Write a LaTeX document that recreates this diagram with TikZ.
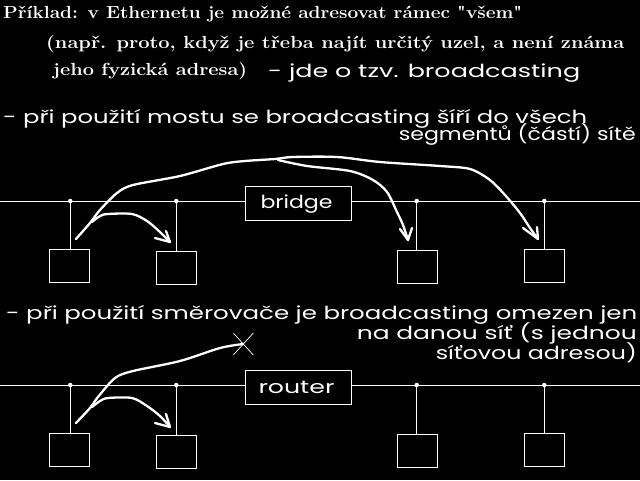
\documentclass[tikz,border=0pt]{standalone}
\usepackage{fontspec}
\usepackage{graphicx}
\newfontfamily\sansf{Poppins}
\newcommand{\fitw}[2]{\resizebox{#1}{\height}{#2}}
\begin{document}
\begin{tikzpicture}[x=1pt,y=-1pt,
  every node/.style={inner sep=0pt, text=white},
  thin line/.style={draw=white, line width=1pt},
  pcbox/.style={draw=white, line width=1pt, minimum width=40pt, minimum height=33pt, fill=black},
  devbox/.style={draw=white, line width=1pt, minimum width=106pt, minimum height=34pt, fill=black, font=\sansf\fontsize{18}{18}\selectfont},
  hand/.style={draw=white, line width=2.3pt, line cap=round, line join=round},
  serift/.style={font=\bfseries\fontsize{17.5}{17.5}\selectfont},
  sanst/.style={font=\sansf\fontsize{18}{18}\selectfont},
  dotm/.style={circle, fill=white, minimum size=4.5pt}]
\fill[black] (0,0) rectangle (640,480);
\useasboundingbox (0,0) rectangle (640,480);

% title texts
\node[serift, anchor=base west] (t1) at (3,18) {\fitw{519pt}{Příklad: v Ethernetu je možné adresovat rámec \textquotedbl všem\textquotedbl}};
\node[serift, anchor=base west] (t2) at (46,48) {\fitw{578pt}{(např. proto, když je třeba najít určitý uzel, a není známa}};
\node[serift, anchor=base west] (t3) at (53,75) {\fitw{194pt}{jeho fyzická adresa)}};
\node[sanst, anchor=base west] (t4) at (268,77) {\fitw{312pt}{- jde o tzv. broadcasting}};

\node[sanst, anchor=base west] (s1) at (3,123) {\fitw{584pt}{- při použití mostu se broadcasting šíří do všech}};
\node[sanst, anchor=base east] (s2) at (636,140) {\fitw{237pt}{segmentů (částí) sítě}};

\node[sanst, anchor=base west] (r1) at (6,319) {\fitw{631pt}{- při použití směrovače je broadcasting omezen jen}};
\node[sanst, anchor=base east] (r2) at (637,339) {\fitw{280pt}{na danou síť (s jednou}};
\node[sanst, anchor=base east] (r3) at (637,359) {\fitw{201pt}{síťovou adresou)}};

% ===== bridge network =====
\node[devbox] (bridge) at (298.5,203.3) {};
\node[devbox, draw=none, fill=none, minimum size=0pt, anchor=base west] (bt) at (260,208) {\fitw{72pt}{bridge}};
\coordinate (bl) at (0,201);
\coordinate (br) at (640,201);
\draw[thin line] (bl) -- (bridge.west |- bl);
\draw[thin line] (bridge.east |- br) -- (br);
\node[pcbox] (b1) at (69.5,265.7) {};
\node[pcbox] (b2) at (176.5,268) {};
\node[pcbox] (b3) at (417.5,267) {};
\node[pcbox] (b4) at (544.5,265.8) {};
\node[dotm] (d1) at (70.3,201) {};
\node[dotm] (d2) at (176.3,201) {};
\node[dotm] (d3) at (416.7,201) {};
\node[dotm] (d4) at (544.3,201) {};
\draw[thin line] (d1.center) -- (d1.center |- b1.north);
\draw[thin line] (d2.center) -- (d2.center |- b2.north);
\draw[thin line] (d3.center) -- (d3.center |- b3.north);
\draw[thin line] (d4.center) -- (d4.center |- b4.north);

% hand-drawn arrows (bridge)
\draw[hand] plot[smooth, tension=0.5] coordinates {(76,239) (90,223) (100,210) (117,193) (133,185) (180,176) (223,164) (245,161) (275,159) (293,157) (337,157) (380,162) (440,166) (470,169) (490,180) (505,195) (520,213) (530,228) (538,239)};
\draw[hand] plot[smooth, tension=0.5] coordinates {(278,160) (307,166) (350,171) (373,180) (387,192) (397,212) (403,225) (408,240)};
\draw[hand] (400,229) -- (408,240) -- (412,228);
\draw[hand] (523,228) -- (538,239) -- (537,227);
\draw[hand] plot[smooth, tension=0.5] coordinates {(92,222) (100,216) (108,214) (132,214) (147,221) (160,232) (170,242)};
\draw[hand] (155,238) -- (170,242) -- (166,231);

% ===== router network =====
\node[devbox] (router) at (298.5,387.2) {};
\node[devbox, draw=none, fill=none, minimum size=0pt, anchor=base west] (rt) at (258,393) {\fitw{76pt}{router}};
\coordinate (rl) at (0,385);
\coordinate (rr) at (640,385);
\draw[thin line] (rl) -- (router.west |- rl);
\draw[thin line] (router.east |- rr) -- (rr);
\node[pcbox] (c1) at (69.5,450) {};
\node[pcbox] (c2) at (176.5,451.8) {};
\node[pcbox] (c3) at (417.5,450.5) {};
\node[pcbox] (c4) at (544.5,450) {};
\node[dotm] (e1) at (70.3,385) {};
\node[dotm] (e2) at (176.3,385) {};
\node[dotm] (e3) at (416.7,385) {};
\node[dotm] (e4) at (544.3,385) {};
\draw[thin line] (e1.center) -- (e1.center |- c1.north);
\draw[thin line] (e2.center) -- (e2.center |- c2.north);
\draw[thin line] (e3.center) -- (e3.center |- c3.north);
\draw[thin line] (e4.center) -- (e4.center |- c4.north);

% hand-drawn arrows (router)
\coordinate (xm) at (243.3,344);
\draw[hand] plot[smooth, tension=0.5] coordinates {(76,423) (90,408) (98,397) (115,378) (133,371) (180,361) (220,348) (243.3,344)};
\draw[draw=white, line width=0.7pt] ([shift={(-10,-11)}]xm) -- ([shift={(10,11)}]xm);
\draw[draw=white, line width=0.7pt] ([shift={(10,-11)}]xm) -- ([shift={(-10,11)}]xm);
\draw[hand] plot[smooth, tension=0.5] coordinates {(92,407) (100,401) (108,398) (132,398) (147,406) (160,416) (170,427)};
\draw[hand] (155,423) -- (170,427) -- (166,414);
\end{tikzpicture}
\end{document}
